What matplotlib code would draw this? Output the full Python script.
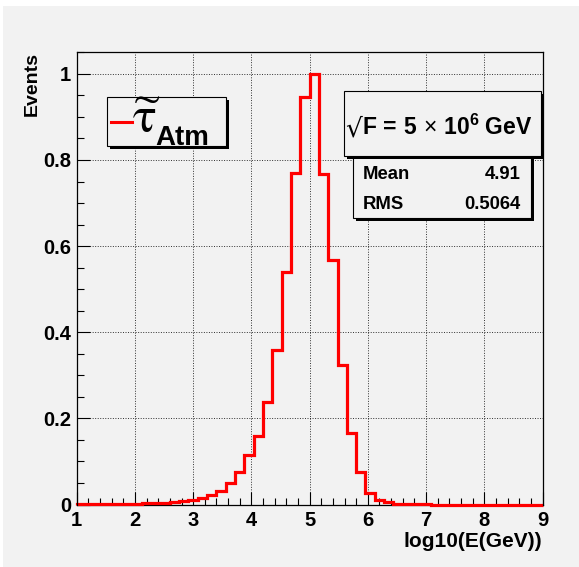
import matplotlib
matplotlib.use("Agg")
import matplotlib.pyplot as plt
import numpy as np
from matplotlib.patches import Rectangle
from matplotlib.lines import Line2D

# ---- data ----
bin_edges = np.linspace(1.0, 9.0, 51)
counts = [0.0005, 0.001, 0.002, 0.002, 0.002, 0.002, 0.002, 0.004, 0.004, 0.004,
          0.005, 0.007, 0.010, 0.015, 0.023, 0.031, 0.051, 0.075, 0.115, 0.159,
          0.237, 0.358, 0.540, 0.770, 0.946, 1.000, 0.768, 0.567, 0.325, 0.165,
          0.076, 0.027, 0.011, 0.005, 0.002, 0.001, 0.001, 0.0005, 0.0, 0.0,
          0.0, 0.0, 0.0, 0.0, 0.0, 0.0, 0.0, 0.0, 0.0, 0.0]
x_ticks = [1, 2, 3, 4, 5, 6, 7, 8, 9]
x_tick_labels = ["1", "2", "3", "4", "5", "6", "7", "8", "9"]
y_ticks = [0, 0.2, 0.4, 0.6, 0.8, 1.0]
y_tick_labels = ["0", "0.2", "0.4", "0.6", "0.8", "1"]
legend_label = "Atm"
stats_root = "\u221a"
stats_title = r"$\mathbf{F\,=\,5}\,\times\,\mathbf{10^{6}\ GeV}$"
stats_names = ["Mean", "RMS"]
stats_values = ["4.91", "0.5064"]

W, H = 579, 567
plt.rcParams["font.family"] = ["Liberation Sans", "DejaVu Sans"]
plt.rcParams["mathtext.fontset"] = "custom"
plt.rcParams["mathtext.rm"] = "Liberation Sans"
plt.rcParams["mathtext.bf"] = "Liberation Sans:bold"
plt.rcParams["mathtext.it"] = "Liberation Sans:italic"

fig = plt.figure(figsize=(W / 100, H / 100), dpi=100, facecolor="white")

def fx(x):
    return x / W

def fy(y):
    return 1 - y / H

BG = "#f2f2f2"
fig.patches.append(Rectangle((fx(3), 0), 1 - fx(3), fy(6), transform=fig.transFigure,
                             facecolor=BG, edgecolor="none", zorder=-10))

L, R, T, B = 76.7, 542.5, 52.3, 504.5
ax = fig.add_axes([fx(L), fy(B), fx(R) - fx(L), fy(T) - fy(B)])
ax.set_facecolor(BG)
ax.set_xlim(1, 9)
ax.set_ylim(0, 1.05)

ax.stairs(counts, bin_edges, color="red", lw=2.3, zorder=2.4, clip_on=False)

ax.set_xticks(x_ticks)
ax.set_xticklabels(x_tick_labels)
ax.set_yticks(y_ticks)
ax.set_yticklabels(y_tick_labels)
ax.set_xticks(np.arange(1, 9.01, 0.2), minor=True)
ax.set_yticks(np.arange(0, 1.051, 0.05), minor=True)
ax.tick_params(which="major", direction="in", length=9.2, width=0.8, labelsize=14.5, pad=4)
ax.tick_params(which="minor", direction="in", length=4.7, width=0.8)
ax.tick_params(axis="x", which="major", pad=5)
for lab in ax.get_xticklabels() + ax.get_yticklabels():
    lab.set_fontweight("bold")
ax.grid(True, which="major", linestyle=(0, (1, 1.6)), color="black", lw=0.7, alpha=0.8)
for s in ax.spines.values():
    s.set_linewidth(0.9)
ax.spines["bottom"].set_zorder(2)

fig.text(fx(32), fy(52), "Events", rotation=90, ha="center", va="top",
         fontsize=14, fontweight="bold")
fig.text(fx(541.7), fy(541.7), "log10(E(GeV))", ha="right", va="center",
         fontsize=15, fontweight="bold")

def box(x0, y0, x1, y1, z):
    sh = 3
    fig.patches.append(Rectangle((fx(x0 + sh), fy(y1 + sh)), fx(x1) - fx(x0), fy(y0) - fy(y1),
                                 transform=fig.transFigure, facecolor="black",
                                 edgecolor="none", zorder=z))
    fig.patches.append(Rectangle((fx(x0), fy(y1)), fx(x1) - fx(x0), fy(y0) - fy(y1),
                                 transform=fig.transFigure, facecolor=BG,
                                 edgecolor="black", lw=0.8, zorder=z + 0.1))

# legend
box(107.3, 96.7, 226, 146, 5)
fig.lines.append(Line2D([fx(111), fx(132.3)], [fy(122), fy(122)], color="red", lw=2.2,
                        transform=fig.transFigure, zorder=6))
fig.text(fx(132), fy(133), r"$\widetilde{\mathrm{\tau}}$", math_fontfamily="stix", fontsize=36,
         ha="left", va="baseline", zorder=7)
fig.text(fx(155), fy(145), legend_label, fontsize=20, fontweight="bold",
         ha="left", va="baseline", zorder=7)

# stats box
box(352.7, 155.7, 530.7, 217.7, 5)
fig.text(fx(362.7), fy(179), stats_names[0], fontsize=13.3, fontweight="bold",
         ha="left", va="baseline", zorder=7)
fig.text(fx(520.7), fy(179), stats_values[0], fontsize=13.3, fontweight="bold",
         ha="right", va="baseline", zorder=7)
fig.text(fx(362.7), fy(209), stats_names[1], fontsize=13.3, fontweight="bold",
         ha="left", va="baseline", zorder=7)
fig.text(fx(520.7), fy(209), stats_values[1], fontsize=13.3, fontweight="bold",
         ha="right", va="baseline", zorder=7)
# title box
box(344, 91, 541, 155.7, 8)
fig.text(fx(345.5), fy(137), stats_root, fontsize=19, ha="left", va="baseline", zorder=9,
         family=["DejaVu Sans"])
fig.text(fx(362.5), fy(135), stats_title, fontsize=16.5, ha="left", va="baseline", zorder=9)

fig.savefig("out.png", dpi=100, facecolor="white")
